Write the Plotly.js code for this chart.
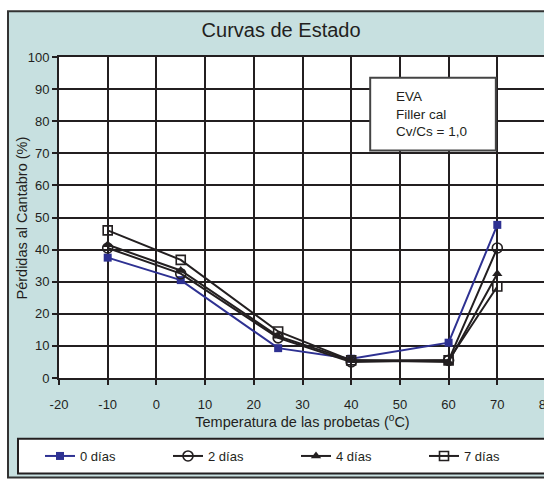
<!DOCTYPE html>
<html>
<head>
<meta charset="utf-8">
<script src="https://cdn.plot.ly/plotly-3.0.1.min.js"></script>
<style>
html,body{margin:0;padding:0;overflow:hidden;background:#fff;}
#chart{width:600px;height:483px;}
</style>
</head>
<body>
<div id="chart"></div>
<script>
// ---- data ----
var temperatures = [-10, 5, 25, 40, 60, 70];
var dias0 = [37.5, 30.5, 9.3, 6.0, 11.0, 47.7];
var dias2 = [40.5, 32.5, 12.5, 5.0, 5.5, 40.5];
var dias4 = [41.5, 33.5, 13.0, 5.5, 5.0, 32.5];
var dias7 = [46.0, 36.8, 14.5, 5.5, 5.5, 28.5];
var seriesNames = ['0 días', '2 días', '4 días', '7 días'];
var xTickVals = [-20, -10, 0, 10, 20, 30, 40, 50, 60, 70, 80];
var xTickText = ['-20', '-10', '0', '10', '20', '30', '40', '50', '60', '70', '80'];
var yTickVals = [0, 10, 20, 30, 40, 50, 60, 70, 80, 90, 100];
var noteLines = ['EVA', 'Filler cal', 'Cv/Cs = 1,0'];

var dark = '#231f20';
var blue = '#2e3192';
var teal = '#c7e0e0';
var fontFam = 'Liberation Sans, Arial, sans-serif';

var traces = [
  {x: temperatures, y: dias0, name: seriesNames[0], mode: 'lines+markers',
   line: {color: blue, width: 2}, marker: {symbol: 'square', size: 8, color: blue}},
  {x: temperatures, y: dias2, name: seriesNames[1], mode: 'lines+markers',
   line: {color: dark, width: 2}, marker: {symbol: 'circle-open', size: 10, color: dark, line: {width: 1.6, color: dark}}},
  {x: temperatures, y: dias4, name: seriesNames[2], mode: 'lines+markers',
   line: {color: dark, width: 2}, marker: {symbol: 'triangle-up', size: 9, color: dark}},
  {x: temperatures, y: dias7, name: seriesNames[3], mode: 'lines+markers',
   line: {color: dark, width: 2}, marker: {symbol: 'square-open', size: 9, color: dark, line: {width: 1.6, color: dark}}}
];

var layout = {
  width: 600, height: 483,
  margin: {l: 59, r: 54, t: 57, b: 103},
  paper_bgcolor: '#ffffff',
  plot_bgcolor: '#ffffff',
  font: {family: fontFam, size: 13, color: dark},
  title: {text: 'Curvas de Estado', font: {family: fontFam, size: 20, color: dark},
          xref: 'paper', x: 0.456, xanchor: 'center', yref: 'container', y: 0.938, yanchor: 'middle'},
  xaxis: {
    range: [-20, 80], tickmode: 'array', tickvals: xTickVals, ticktext: xTickText,
    showgrid: true, gridcolor: dark, gridwidth: 2,
    showline: true, linecolor: dark, linewidth: 2, mirror: true,
    ticks: 'outside', ticklen: 5, tickwidth: 2, tickcolor: dark,
    ticklabelstandoff: 8, automargin: false,
    zeroline: false, tickfont: {size: 13, color: dark},
    title: {text: 'Temperatura de las probetas (<sup>o</sup>C)', font: {size: 14.5, color: dark}, standoff: 3}
  },
  yaxis: {
    range: [0, 100], tickmode: 'array', tickvals: yTickVals,
    showgrid: true, gridcolor: dark, gridwidth: 2,
    showline: true, linecolor: dark, linewidth: 2, mirror: true,
    ticks: 'outside', ticklen: 5, tickwidth: 2, tickcolor: dark, automargin: false,
    zeroline: false, tickfont: {size: 13, color: dark}
  },
  showlegend: true,
  legend: {orientation: 'h', x: -0.039, xanchor: 'left', y: -0.243, yanchor: 'middle',
           bgcolor: 'rgba(0,0,0,0)', borderwidth: 0, font: {size: 13, color: dark},
           entrywidth: 83, entrywidthmode: 'pixels', traceorder: 'normal'},
  shapes: [
    {type: 'rect', xref: 'paper', yref: 'paper', x0: -0.1047, x1: 1.2, y0: -0.3096, y1: 1.1424,
     fillcolor: teal, line: {color: '#333333', width: 2}, layer: 'below'},
    {type: 'rect', xref: 'paper', yref: 'paper', x0: 0, x1: 1, y0: 0, y1: 1,
     fillcolor: '#ffffff', line: {width: 0}, layer: 'below'},
    {type: 'rect', xref: 'paper', yref: 'paper', x0: -0.0842, x1: 1.2, y0: -0.2972, y1: -0.1889,
     fillcolor: '#ffffff', line: {color: dark, width: 2}, layer: 'below'},
    {type: 'rect', xref: 'x', yref: 'y', x0: 43.9, x1: 69.7, y0: 70.9, y1: 93.5,
     fillcolor: '#ffffff', line: {color: '#444444', width: 2}, layer: 'above'}
  ],
  annotations: [
    {xref: 'x', yref: 'y', x: 48.7, y: 90.6, xanchor: 'left', yanchor: 'top', align: 'left',
     showarrow: false, text: noteLines.join('<br>'), font: {size: 13.5, color: dark}},
    {xref: 'paper', yref: 'paper', x: -0.076, y: 0.5, xanchor: 'center', yanchor: 'middle',
     textangle: -90, showarrow: false, text: 'Pérdidas al Cantabro (%)', font: {size: 14.5, color: dark}}
  ]
};

Plotly.newPlot('chart', traces, layout, {displayModeBar: false, staticPlot: true});
</script>
</body>
</html>
